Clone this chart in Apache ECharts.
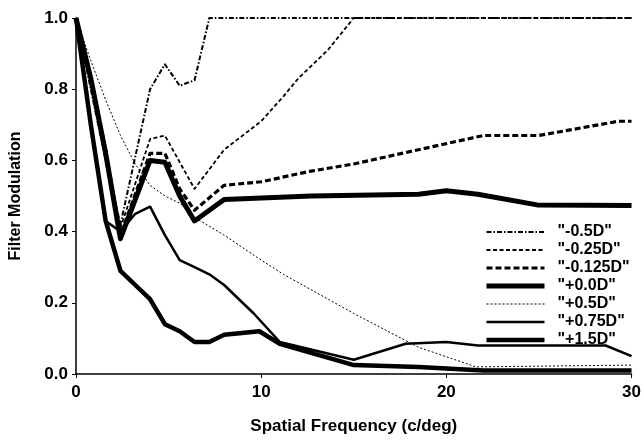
<!DOCTYPE html>
<html>
<head>
<meta charset="utf-8">
<script src="https://cdn.jsdelivr.net/npm/echarts@6/dist/echarts.min.js"></script>
<style>
  html, body { margin: 0; padding: 0; background: #fff; }
  #chart { width: 644px; height: 440px; }
</style>
</head>
<body>
<div id="chart"></div>
<script>
// 各曲线数据 [空间频率, 调制值]
const minus05 = [[0, 1], [0.8, 0.8], [1.6, 0.6], [2.4, 0.42], [4.0, 0.8], [4.8, 0.87], [5.6, 0.81], [6.4, 0.825], [7.2, 1], [30, 1]]
const minus025 = [[0, 1], [0.8, 0.82], [1.6, 0.62], [2.4, 0.41], [4.0, 0.66], [4.8, 0.67], [6.4, 0.52], [8.0, 0.63], [10, 0.71], [11.2, 0.78], [12, 0.83], [13.6, 0.91], [15, 1], [30, 1]]
const minus0125 = [[0, 1], [0.8, 0.83], [1.6, 0.63], [2.4, 0.39], [4.0, 0.62], [4.8, 0.62], [5.6, 0.52], [6.4, 0.46], [8.0, 0.53], [10, 0.54], [12.7, 0.57], [15, 0.59], [18.5, 0.63], [22, 0.67], [25, 0.67], [29.3, 0.71], [30, 0.71]]
const plus00 = [[0, 1], [0.8, 0.83], [1.6, 0.62], [2.4, 0.38], [4.0, 0.6], [4.8, 0.595], [5.6, 0.5], [6.4, 0.43], [8.0, 0.49], [12.7, 0.5], [18.5, 0.505], [20, 0.515], [21.7, 0.505], [24.9, 0.475], [30, 0.473]]
const plus05 = [[0, 1], [0.8, 0.88], [1.6, 0.77], [2.4, 0.67], [3.2, 0.59], [4.0, 0.53], [4.8, 0.5], [5.6, 0.48], [6.4, 0.44], [8.0, 0.39], [10, 0.32], [11.2, 0.28], [15, 0.17], [18.5, 0.075], [21.6, 0.02], [30, 0.025]]
const plus075 = [[0, 1], [0.8, 0.7], [1.6, 0.43], [2.4, 0.4], [3.2, 0.45], [4.0, 0.47], [4.8, 0.39], [5.6, 0.32], [6.4, 0.3], [7.2, 0.28], [8.0, 0.25], [9.6, 0.17], [11, 0.09], [15, 0.04], [17.8, 0.085], [20, 0.09], [21.7, 0.08], [28.6, 0.08], [30, 0.05]]
const plus15 = [[0, 1], [0.8, 0.7], [1.6, 0.43], [2.4, 0.29], [3.2, 0.25], [4.0, 0.21], [4.8, 0.14], [5.6, 0.12], [6.4, 0.09], [7.2, 0.09], [8.0, 0.11], [9.9, 0.12], [11, 0.085], [15, 0.025], [18.5, 0.02], [22, 0.01], [30, 0.01]]

const seriesNames = ['"-0.5D"', '"-0.25D"', '"-0.125D"', '"+0.0D"', '"+0.5D"', '"+0.75D"', '"+1.5D"']
const xTicks = [0, 10, 20, 30]
const yTicks = [0, 0.2, 0.4, 0.6, 0.8, 1.0]

// 线型：宽度 + 虚线样式
const lineWidths = [2, 1.8, 3.2, 5, 1, 2.5, 4.5]
const lineTypes = [[5, 2, 1.5, 2], [4, 2.5], [6, 3], 'solid', [2, 2], 'solid', 'solid']
const allData = [minus05, minus025, minus0125, plus00, plus05, plus075, plus15]

const chart = echarts.init(document.getElementById('chart'))

const font = 'Liberation Sans, Arial, sans-serif'

const series = allData.map((data, i) => ({
  name: seriesNames[i],
  type: 'line',
  data: data,
  symbol: 'none',
  animation: false,
  lineStyle: { color: '#000', width: lineWidths[i], type: lineTypes[i], cap: 'butt', join: 'round' },
  itemStyle: { color: '#000' }
}))

const option = {
  backgroundColor: '#fff',
  grid: { left: 72, right: 8, top: 18, bottom: 54 },
  legend: {
    orient: 'vertical',
    left: 479,
    top: 219,
    itemWidth: 58,
    itemHeight: 12,
    itemGap: 2,
    itemStyle: { opacity: 0 },
    data: seriesNames.map((name, i) => ({
      name: name,
      lineStyle: { color: '#000', width: lineWidths[i], type: lineTypes[i], cap: 'butt' }
    })),
    textStyle: { fontFamily: font, fontSize: 16, fontWeight: 'bold', lineHeight: 16, color: '#000', padding: [0, 0, 0, 8] }
  },
  xAxis: {
    type: 'value',
    min: xTicks[0],
    max: xTicks[xTicks.length - 1],
    interval: 10,
    name: 'Spatial Frequency (c/deg)',
    nameLocation: 'middle',
    nameGap: 44,
    nameTextStyle: { fontFamily: font, fontSize: 17, fontWeight: 'bold', color: '#000' },
    axisLine: { lineStyle: { color: '#000', width: 1.5 } },
    axisTick: { show: true, length: 4, lineStyle: { color: '#000' } },
    axisLabel: { fontFamily: font, fontSize: 17, fontWeight: 'bold', color: '#000', margin: 10 },
    splitLine: { show: false }
  },
  yAxis: {
    type: 'value',
    min: yTicks[0],
    max: yTicks[yTicks.length - 1],
    interval: 0.2,
    name: 'Filter Modulation',
    nameLocation: 'middle',
    nameGap: 52,
    nameTextStyle: { fontFamily: font, fontSize: 16, fontWeight: 'bold', color: '#000' },
    axisLine: { show: true, lineStyle: { color: '#000', width: 1.5 } },
    axisTick: { show: true, length: 4, lineStyle: { color: '#000' } },
    axisLabel: { fontFamily: font, fontSize: 17, fontWeight: 'bold', color: '#000', margin: 8, formatter: (v) => v.toFixed(1) },
    splitLine: { show: false }
  },
  series: series
}

chart.setOption(option)
</script>
</body>
</html>
